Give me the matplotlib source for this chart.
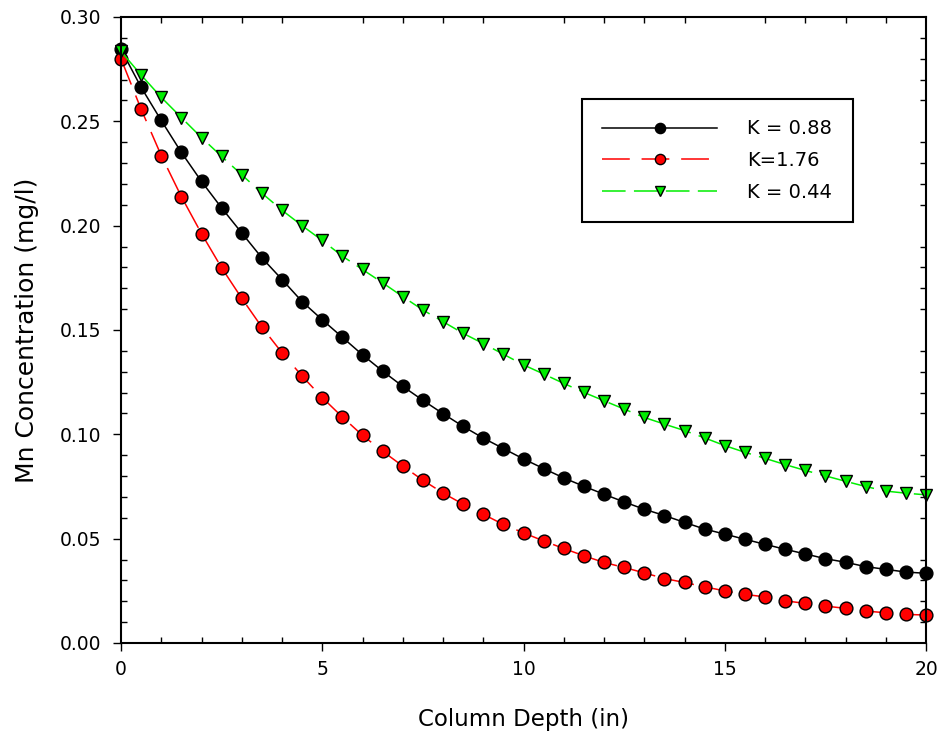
import matplotlib
matplotlib.use("Agg")
import matplotlib.pyplot as plt
from matplotlib.ticker import MultipleLocator, FormatStrFormatter

plt.rcParams["font.family"] = ["DejaVu Sans"]
plt.rcParams["lines.scale_dashes"] = False

# Column depth (in)
depth = [0.0, 0.5, 1.0, 1.5, 2.0, 2.5, 3.0, 3.5, 4.0, 4.5,
         5.0, 5.5, 6.0, 6.5, 7.0, 7.5, 8.0, 8.5, 9.0, 9.5,
         10.0, 10.5, 11.0, 11.5, 12.0, 12.5, 13.0, 13.5, 14.0, 14.5,
         15.0, 15.5, 16.0, 16.5, 17.0, 17.5, 18.0, 18.5, 19.0, 19.5, 20.0]

# Mn concentration (mg/l) for each rate constant
mn_k088 = [0.2845, 0.2663, 0.2504, 0.2351, 0.2212, 0.2085, 0.1965, 0.1846, 0.1742, 0.1636,
           0.1549, 0.1465, 0.1381, 0.1303, 0.1230, 0.1163, 0.1099, 0.1038, 0.0982, 0.0932,
           0.0882, 0.0836, 0.0791, 0.0751, 0.0713, 0.0676, 0.0641, 0.0611, 0.0578, 0.0546,
           0.0522, 0.0497, 0.0473, 0.0449, 0.0427, 0.0404, 0.0387, 0.0366, 0.0353, 0.0340, 0.0334]

mn_k176 = [0.2800, 0.2558, 0.2336, 0.2139, 0.1962, 0.1798, 0.1652, 0.1514, 0.1391, 0.1279,
           0.1176, 0.1083, 0.0995, 0.0919, 0.0848, 0.0780, 0.0719, 0.0665, 0.0617, 0.0568,
           0.0528, 0.0489, 0.0453, 0.0418, 0.0386, 0.0362, 0.0336, 0.0309, 0.0290, 0.0269,
           0.0250, 0.0233, 0.0221, 0.0202, 0.0190, 0.0177, 0.0166, 0.0153, 0.0145, 0.0137, 0.0134]

mn_k044 = [0.2835, 0.2722, 0.2615, 0.2518, 0.2422, 0.2332, 0.2244, 0.2156, 0.2074, 0.2000,
           0.1929, 0.1854, 0.1790, 0.1726, 0.1660, 0.1596, 0.1540, 0.1484, 0.1435, 0.1384,
           0.1333, 0.1289, 0.1244, 0.1201, 0.1161, 0.1121, 0.1081, 0.1049, 0.1018, 0.0983,
           0.0946, 0.0914, 0.0885, 0.0855, 0.0827, 0.0801, 0.0775, 0.0750, 0.0728, 0.0718, 0.0710]

labels = ["K = 0.88", "K=1.76", "K = 0.44"]

W, H = 941, 750
fig = plt.figure(figsize=(W / 100, H / 100), dpi=100)
ax = fig.add_axes([121 / W, (H - 643) / H, 805 / W, 626 / H])

common = dict(markersize=9.2, markeredgecolor="black", markeredgewidth=1.0,
              linewidth=1.1, clip_on=False)

ax.plot(depth, mn_k088, color="black", linestyle="-", marker="o",
        markerfacecolor="black", label=labels[0], **common)
ax.plot(depth, mn_k176, color="#ff0000", linestyle=(0, (20, 8.5)), marker="o",
        markerfacecolor="#ff0000", label=labels[1], **common)
ax.plot(depth, mn_k044, color="#00ee00", linestyle=(0, (17, 6)), marker="v",
        markerfacecolor="#00ee00", label=labels[2], **common)

ax.set_xlim(0, 20)
ax.set_ylim(0, 0.30)
ax.xaxis.set_major_locator(MultipleLocator(5))
ax.xaxis.set_minor_locator(MultipleLocator(1))
ax.yaxis.set_major_locator(MultipleLocator(0.05))
ax.yaxis.set_minor_locator(MultipleLocator(0.01))
ax.yaxis.set_major_formatter(FormatStrFormatter("%.2f"))
ax.xaxis.set_major_formatter(FormatStrFormatter("%d"))

ax.tick_params(which="major", direction="out", length=6, width=1.0,
               labelsize=13.5, top=False, right=False)
ax.tick_params(axis="y", which="major", pad=8.5)
ax.tick_params(axis="x", which="major", pad=6)
ax.tick_params(which="minor", direction="in", length=4.5, width=1.0,
               top=True, right=True, bottom=True, left=True)

for sp in ax.spines.values():
    sp.set_linewidth(1.5)

ax.set_xlabel("Column Depth (in)", fontsize=16.5, labelpad=21)
ax.set_ylabel("Mn Concentration (mg/l)", fontsize=18, labelpad=15)

leg = ax.legend(loc="upper left", bbox_to_anchor=((582 - 121) / 805, (643 - 99) / 626),
                borderaxespad=0, fontsize=14, numpoints=1, handlelength=5.9,
                handletextpad=1.55, borderpad=1.05, labelspacing=0.65,
                markerscale=0.8, fancybox=False, framealpha=1, edgecolor="black")
leg.get_frame().set_linewidth(1.5)

fig.savefig("out.png", dpi=100)
